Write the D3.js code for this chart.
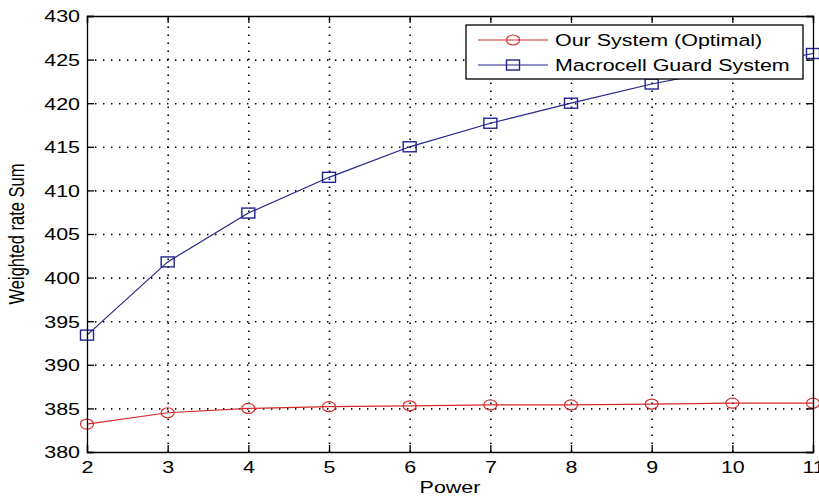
<!DOCTYPE html>
<html>
<head>
<meta charset="utf-8">
<script src="https://cdn.jsdelivr.net/npm/d3@7"></script>
<style>
body{margin:0;background:#fff;}
svg{display:block;}
text{font-family:"Liberation Sans",Arial,sans-serif;}
</style>
</head>
<body>
<svg id="chart" width="819" height="500"></svg>
<script>
// values
const power=[2,3,4,5,6,7,8,9,10,11];
const ourSystem=[383.2,384.5,385.0,385.2,385.3,385.4,385.4,385.5,385.6,385.6];
const macroGuard=[393.4,401.8,407.4,411.5,415.0,417.7,420.0,422.2,424.0,425.7];
const yTicks=[380,385,390,395,400,405,410,415,420,425,430];
const seriesNames=["Our System (Optimal)","Macrocell Guard System"];

const margin={left:87,top:16,right:6,bottom:48};
const W=819-margin.left-margin.right;
const H=500-margin.top-margin.bottom;
const stretch=1.3; // the source figure text is stretched sideways
const fs=16.5;

const svg=d3.select("#chart");
const g=svg.append("g").attr("transform",`translate(${margin.left},${margin.top})`);

let x=d3.scaleLinear().domain([2,11]).range([0,W]);
let y=d3.scaleLinear().domain([380,430]).range([H,0]);

// dotted grid
const grid=g.append("g").attr("class","grid");
grid.append("g")
  .attr("transform",`translate(0,${H})`)
  .call(d3.axisBottom(x).tickValues(power.slice(1,-1)).tickSize(-H).tickFormat(""));
grid.append("g")
  .call(d3.axisLeft(y).tickValues(yTicks.slice(1,-1)).tickSize(-W).tickFormat(""));
grid.selectAll(".domain").remove();
grid.selectAll("line")
  .attr("stroke","#000")
  .attr("stroke-width",1.6)
  .attr("stroke-dasharray","1.4,6.6");

// lines + markers
const line=d3.line().x((d,i)=>x(power[i])).y((d)=>y(d));
g.append("path").datum(ourSystem)
  .attr("fill","none").attr("stroke","#d42a2a").attr("stroke-width",1.2)
  .attr("d",line);
g.append("path").datum(macroGuard)
  .attr("fill","none").attr("stroke","#23238c").attr("stroke-width",1.2)
  .attr("d",line);

g.append("g").selectAll("ellipse")
  .data(ourSystem)
  .enter()
    .append("ellipse")
    .attr("cx",(d,i)=>x(power[i]))
    .attr("cy",(d)=>y(d))
    .attr("rx",6.5).attr("ry",5)
    .attr("fill","none").attr("stroke","#d42a2a").attr("stroke-width",1.2);
g.append("g").selectAll("rect")
  .data(macroGuard)
  .enter()
    .append("rect")
    .attr("x",(d,i)=>x(power[i])-6.5)
    .attr("y",(d)=>y(d)-5)
    .attr("width",13).attr("height",10)
    .attr("fill","none").attr("stroke","#23238c").attr("stroke-width",1.4);

// axes (ticks inside, box on)
const styleAxis=(a)=>{
  a.selectAll(".domain").attr("stroke","#000").attr("stroke-width",1.3);
  a.selectAll(".tick line").attr("stroke","#000").attr("stroke-width",1.3);
  a.selectAll("text").attr("font-size",fs).attr("fill","#000")
    .attr("font-family","Liberation Sans, Arial, sans-serif");
}
let xAxis=g.append("g")
  .attr("transform",`translate(0,${H})`)
  .call(d3.axisBottom(x).tickValues(power).tickSize(-7).tickFormat(d3.format("d")));
styleAxis(xAxis);
xAxis.selectAll("text")
  .attr("y",null).attr("dy",null)
  .attr("transform",`translate(0,21) scale(${stretch},1)`);

let yAxis=g.append("g")
  .call(d3.axisLeft(y).tickValues(yTicks).tickSize(-7).tickFormat(d3.format("d")));
styleAxis(yAxis);
yAxis.selectAll("text")
  .attr("x",null).attr("dy","0.36em")
  .attr("transform",`translate(-7,0) scale(${stretch},1)`);

let topAxis=g.append("g").call(d3.axisTop(x).tickValues(power).tickSize(-7).tickFormat(""));
styleAxis(topAxis);
let rightAxis=g.append("g").attr("transform",`translate(${W},0)`)
  .call(d3.axisRight(y).tickValues(yTicks).tickSize(-7).tickFormat(""));
styleAxis(rightAxis);

// axis labels
g.append("text")
  .attr("transform",`translate(${W/2},${H+41}) scale(${stretch},1)`)
  .attr("text-anchor","middle").attr("font-size",fs)
  .text("Power");
g.append("text")
  .attr("transform",`translate(${-margin.left+24},${H/2}) rotate(-90) scale(1,${stretch})`)
  .attr("text-anchor","middle").attr("font-size",fs)
  .text("Weighted rate Sum");

// legend
const lg=g.append("g").attr("transform",`translate(${466-margin.left},${25-margin.top})`);
lg.append("rect")
  .attr("width",337).attr("height",54)
  .attr("fill","#fff").attr("stroke","#000").attr("stroke-width",1.3);
const colors=["#d42a2a","#23238c"];
const rows=lg.selectAll(".row")
  .data(seriesNames)
  .enter()
    .append("g")
    .attr("class","row")
    .attr("transform",(d,i)=>`translate(0,${15+i*25})`);
rows.append("line")
  .attr("x1",12).attr("x2",82)
  .attr("stroke",(d,i)=>colors[i]).attr("stroke-width",1.2);
rows.filter((d,i)=>i==0).append("ellipse")
  .attr("cx",47).attr("rx",6.5).attr("ry",5)
  .attr("fill","none").attr("stroke",colors[0]).attr("stroke-width",1.2);
rows.filter((d,i)=>i==1).append("rect")
  .attr("x",40.5).attr("y",-5).attr("width",13).attr("height",10)
  .attr("fill","none").attr("stroke",colors[1]).attr("stroke-width",1.4);
rows.append("text")
  .attr("transform",`translate(89,6) scale(${stretch},1)`)
  .attr("font-size",fs)
  .text((d)=>d);
</script>
</body>
</html>
